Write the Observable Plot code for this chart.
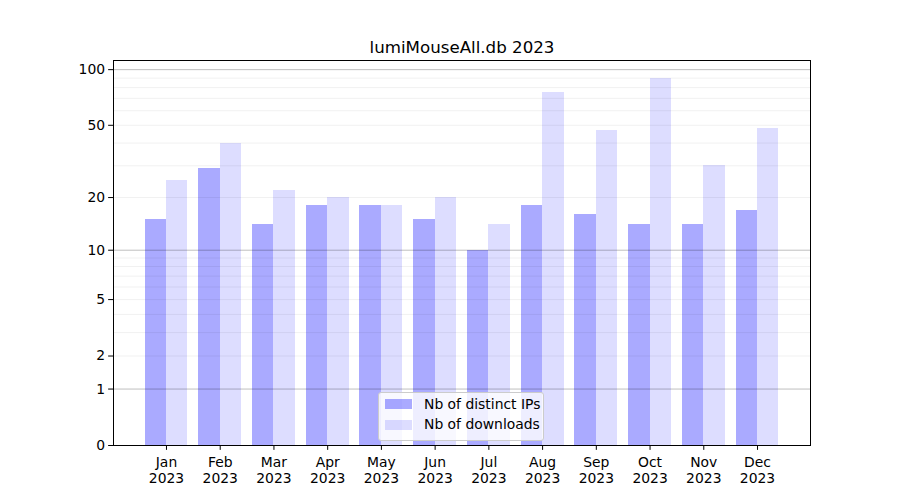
<!DOCTYPE html>
<html>
<head>
<meta charset="utf-8">
<script src="https://cdn.jsdelivr.net/npm/d3@7"></script>
<script src="https://cdn.jsdelivr.net/npm/@observablehq/plot@0.6"></script>
<style>
  body { margin: 0; background: #fff; }
  #wrap { position: relative; width: 900px; height: 500px; font-family: "DejaVu Sans", sans-serif; }
  #legend { position: absolute; left: 378px; top: 392px; width: 166px; height: 49px; box-sizing: border-box;
            border: 1px solid #cccccc; border-radius: 3px; background: rgba(255,255,255,0.8); font-size: 13.9px; color: #000; }
  .sw { position: absolute; left: 6px; width: 27px; height: 10px; }
  .lb { position: absolute; left: 45px; line-height: 16px; white-space: nowrap; }
</style>
</head>
<body>
<div id="wrap"></div>
<script>
const title = "lumiMouseAll.db 2023";
const year = "2023";
const months = ["Jan","Feb","Mar","Apr","May","Jun","Jul","Aug","Sep","Oct","Nov","Dec"];
const distinctIPs = [15, 29, 14, 18, 18, 15, 10, 18, 16, 14, 14, 17];
const downloads  = [25, 40, 22, 20, 18, 20, 14, 75, 47, 90, 30, 48];
const seriesNames = ["Nb of distinct IPs", "Nb of downloads"];
const yTicks = [0, 1, 2, 5, 10, 20, 50, 100];
const majorGrid = [1, 10, 100];
const minorGrid = [2, 3, 4, 5, 6, 7, 8, 9, 20, 30, 40, 50, 60, 70, 80, 90];

const rows = months.map((m, i) => ({month: m, ips: distinctIPs[i], downloads: downloads[i]}));

const chart = Plot.plot({
  width: 900,
  height: 500,
  marginLeft: 113,
  marginRight: 90,
  marginTop: 60,
  marginBottom: 55,
  style: {fontFamily: "DejaVu Sans, sans-serif", fontSize: "13.9px", color: "#000", background: "#fff"},
  x: {type: "band", domain: months, paddingInner: 0, paddingOuter: 0.486, round: false},
  y: {type: "symlog", constant: 1, domain: [0, 112]},
  marks: [
    Plot.barY(rows, {x: "month", y: "ips", fill: "blue", fillOpacity: 1/3, insetLeft: 5.4, insetRight: 26.9, shapeRendering: "crispEdges"}),
    Plot.barY(rows, {x: "month", y: "downloads", fill: "blue", fillOpacity: 0.135, insetLeft: 26.9, insetRight: 5.4, shapeRendering: "crispEdges"}),
    Plot.ruleY(minorGrid, {stroke: "#000", strokeOpacity: 0.08, strokeWidth: 0.8}),
    Plot.ruleY(majorGrid, {stroke: "#000", strokeOpacity: 0.25, strokeWidth: 1}),
    Plot.frame({stroke: "#000", strokeWidth: 1}),
    Plot.axisY({ticks: yTicks, tickFormat: d => String(d), tickSize: 4.86, tickPadding: 3.5, fontSize: 13.9, label: null}),
    Plot.axisX({tickFormat: m => m + "\n" + year, tickSize: 4.86, tickPadding: 5.5, fontSize: 13.9, lineHeight: 1.16, label: null}),
    Plot.text([title], {frameAnchor: "top", lineAnchor: "bottom", dy: -8, fontSize: 16.67, fill: "#000"})
  ]
});

const wrap = document.getElementById("wrap");
wrap.appendChild(chart);

const legend = document.createElement("div");
legend.id = "legend";
const swColors = ["rgba(0,0,255,0.333)", "rgba(0,0,255,0.135)"];
seriesNames.forEach((name, i) => {
  const sw = document.createElement("div");
  sw.className = "sw";
  sw.style.top = (6 + i * 21) + "px";
  sw.style.background = swColors[i];
  const lb = document.createElement("div");
  lb.className = "lb";
  lb.style.top = (3 + i * 20) + "px";
  lb.textContent = name;
  legend.appendChild(sw);
  legend.appendChild(lb);
});
wrap.appendChild(legend);
</script>
</body>
</html>
